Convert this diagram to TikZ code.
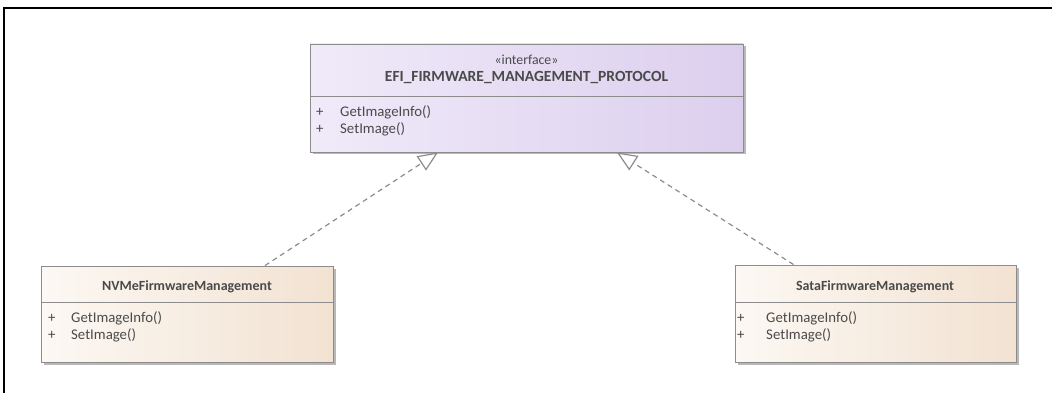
\documentclass[tikz,border=0pt]{standalone}
\usepackage{fontspec}
\setmainfont{Carlito}
\usetikzlibrary{arrows.meta,shadows}
\definecolor{umlline}{HTML}{8C8C8C}
\definecolor{umltext}{HTML}{4A4A4A}
\definecolor{ifaceL}{HTML}{F0EAF9}
\definecolor{ifaceR}{HTML}{DCCFEE}
\definecolor{implL}{HTML}{FCF8F3}
\definecolor{implR}{HTML}{F2E2D2}
\begin{document}
\begin{tikzpicture}[x=1pt,y=-1pt,
  classbox/.style={draw=umlline, line width=0.9pt, rectangle, inner sep=0pt,
    drop shadow={shadow xshift=2.5pt, shadow yshift=-2.5pt, fill=black!35, opacity=0.8}},
  ifacebox/.style={classbox, left color=ifaceL, right color=ifaceR},
  implbox/.style={classbox, left color=implL, right color=implR},
  divider/.style={draw=umlline, line width=0.9pt},
  titletext/.style={font=\fontsize{14}{16}\selectfont\bfseries, text=umltext, inner sep=0pt},
  bigtitletext/.style={titletext, font=\fontsize{15.5}{18}\selectfont\bfseries},
  stereotext/.style={font=\fontsize{13.8}{16}\selectfont, text=umltext, inner sep=0pt},
  optext/.style={font=\fontsize{14.8}{17}\selectfont, text=umltext, inner sep=0pt, anchor=west},
  realizes/.style={draw=umlline, line width=1.2pt, dash pattern=on 5pt off 4pt,
    -{Triangle[open, length=20pt, width=17pt, fill=white]}},
  frameline/.style={draw=black, line width=2pt}]
\useasboundingbox (0,0) rectangle (1052,393);
% outer frame (top and left edges)
\draw[frameline] (3,8) -- (1052,8);
\draw[frameline] (4,8) -- (4,393);

% interface class
\node[ifacebox, minimum width=433pt, minimum height=108pt] (iface) at (526.5,98) {};
\draw[divider] (310,96) -- (743,96);
\node[stereotext] (ifstereo) at (526.5,60) {«interface»};
\node[bigtitletext] (ifname) at (526.5,78) {EFI\_FIRMWARE\_MANAGEMENT\_PROTOCOL};
\node[optext] (ifp1) at (316,112) {+};
\node[optext] (ifo1) at (340,112) {GetImageInfo()};
\node[optext] (ifp2) at (316,129) {+};
\node[optext] (ifo2) at (340,129) {SetImage()};

% NVMe implementation
\node[implbox, minimum width=292pt, minimum height=96pt] (nvme) at (187,314) {};
\draw[divider] (41,302) -- (333,302);
\node[titletext] (nvname) at (187,287) {NVMeFirmwareManagement};
\node[optext] (nvp1) at (48,318) {+};
\node[optext] (nvo1) at (71,318) {GetImageInfo()};
\node[optext] (nvp2) at (48,335) {+};
\node[optext] (nvo2) at (71,335) {SetImage()};

% SATA implementation
\node[implbox, minimum width=281pt, minimum height=97pt] (sata) at (875.5,313.5) {};
\draw[divider] (735,302) -- (1016,302);
\node[titletext] (saname) at (875,287) {SataFirmwareManagement};
\node[optext] (sap1) at (737,318) {+};
\node[optext] (sao1) at (766,318) {GetImageInfo()};
\node[optext] (sap2) at (737,335) {+};
\node[optext] (sao2) at (766,335) {SetImage()};

% realization connectors
\coordinate (nvtop) at ([xshift=78pt]nvme.north);
\coordinate (satop) at ([xshift=-82pt]sata.north);
\coordinate (ifleft) at ([xshift=-88.5pt]iface.south);
\coordinate (ifright) at ([xshift=90.5pt]iface.south);
\draw[realizes] (nvtop) -- (ifleft);
\draw[realizes] (satop) -- (ifright);
\end{tikzpicture}
\end{document}
